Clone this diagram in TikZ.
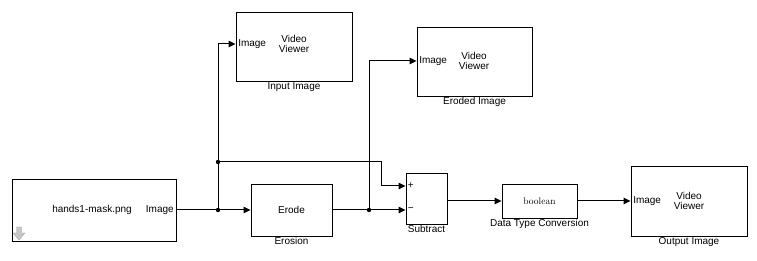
\documentclass[tikz,border=0pt]{standalone}
\usepackage{fontspec}
\newfontfamily\blockfont{Liberation Sans}
\usetikzlibrary{positioning,arrows.meta,shadows}
\tikzset{
blk/.style={draw=black,line width=0.9pt,fill=white,inner sep=0pt,
drop shadow={shadow xshift=1.4pt,shadow yshift=-1.4pt,fill=black!30,opacity=1}},
viewer/.style={blk,minimum width=116pt,minimum height=69pt},
portin/.style={anchor=west,inner sep=2.5pt},
portout/.style={anchor=east,inner sep=2.5pt},
sign/.style={anchor=west,inner sep=2pt,font=\blockfont\fontsize{10}{11}\selectfont},
title/.style={align=center,font=\blockfont\fontsize{10}{10}\selectfont},
lbl/.style={below=0pt of #1,inner sep=1pt},
wire/.style={line width=1pt,-{Triangle[length=7pt,width=6.5pt]}},
plain/.style={line width=1pt},
jdot/.style={fill=black}
}
\begin{document}
\begin{tikzpicture}[x=1pt,y=-1pt,every node/.style={font=\blockfont\fontsize{10}{11}\selectfont}]
\useasboundingbox (0,0) rectangle (757,261);
\node[blk,minimum width=164pt,minimum height=62pt] (src) at (94,210) {};
\node[portout] (srcimg) at (src.east |- 0,210) {Image};
\node (srcname) at (92,210) {hands1-mask.png};
\draw[black!35,fill=black!22] (16.5,227) -- (21.5,227) -- (21.5,233) -- (25,233) -- (19,240) -- (13,233) -- (16.5,233) -- cycle;
\node[blk,minimum width=81pt,minimum height=52pt] (erode) at (291.5,210) {Erode};
\node[lbl=erode] (erodelbl) {Erosion};
\node[blk,minimum width=41pt,minimum height=51pt] (sub) at (426.5,198.5) {};
\node[sign] (subp) at (sub.west |- 0,186) {+};
\node[sign] (subm) at (sub.west |- 0,210) {−};
\node[lbl=sub] (sublbl) {Subtract};
\node[blk,minimum width=75pt,minimum height=34pt,font=\fontsize{9.5}{10}\selectfont] (dtc) at (539.5,201) {boolean};
\node[lbl=dtc] (dtclbl) {Data Type Conversion};
\node[viewer] (vin) at (294,46.5) {};
\node[portin] (vinimg) at (vin.west |- 0,44) {Image};
\node[title] (vintitle) at (294,44) {Video\\Viewer};
\node[lbl=vin] (vinlbl) {Input Image};
\node[viewer,minimum width=115pt] (ver) at (474.5,61.5) {};
\node[portin] (verimg) at (ver.west |- 0,61) {Image};
\node[title] (vertitle) at (474,61) {Video\\Viewer};
\node[lbl=ver] (verlbl) {Eroded Image};
\node[viewer,minimum height=70pt] (vout) at (689,201) {};
\node[portin] (voutimg) at (vout.west |- 0,201) {Image};
\node[title] (vouttitle) at (689,201) {Video\\Viewer};
\node[lbl=vout] (voutlbl) {Output Image};
\coordinate (j1) at (218,210);
\coordinate (j2) at (218,162);
\coordinate (j3) at (369,210);
\draw[plain] (srcimg.east) -- (j1);
\draw[wire] (j1) -- (erode.west);
\draw[wire] (j1) |- (vinimg.west);
\draw[wire] (j2) -- ++(163,0) |- (subp.west);
\draw[plain] (erode.east) -- (j3);
\draw[wire] (j3) -- (subm.west);
\draw[wire] (j3) |- (verimg.west);
\draw[wire] (sub.east |- dtc.west) -- (dtc.west);
\draw[wire] (dtc.east) -- (voutimg.west);
\foreach \j in {j1,j2,j3} \fill[jdot] (\j) circle (2.2pt);
\end{tikzpicture}
\end{document}
